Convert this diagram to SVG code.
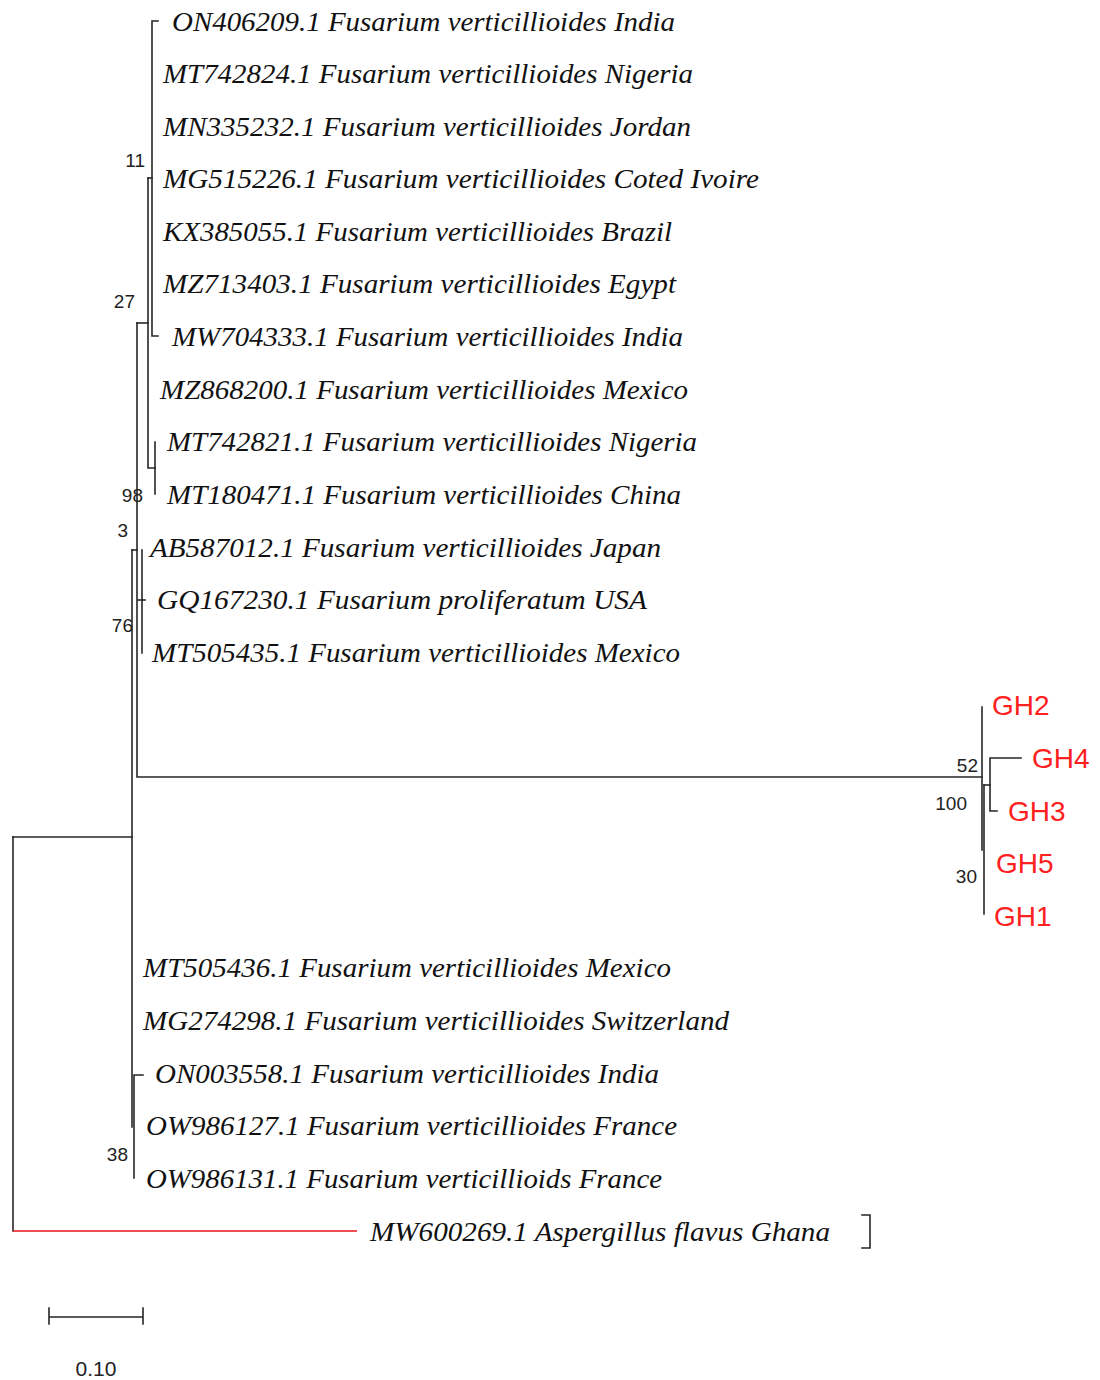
<svg xmlns="http://www.w3.org/2000/svg" width="1100" height="1380" viewBox="0 0 1100 1380">
<style>
.br{stroke:#262626;stroke-width:1.6;fill:none;stroke-linecap:square}
.out{stroke:#e8141c;stroke-width:1.6;fill:none}
.tx{font-family:"Liberation Serif","Times New Roman",serif;font-style:italic;font-size:28px;fill:#111}
.gh{font-family:"Liberation Sans",Arial,sans-serif;font-size:28px;fill:#ff2020}
.bs{font-family:"Liberation Sans",Arial,sans-serif;font-size:19px;fill:#222;text-anchor:end}
.sc{font-family:"Liberation Sans",Arial,sans-serif;font-size:21px;fill:#222;text-anchor:middle}
</style>
<rect width="1100" height="1380" fill="#fff"/>
<g id="connectors">
<path class="br" d="M158,21H152V336H158"/>
<path class="br" d="M148,178H152"/>
<path class="br" d="M148,178V468H155"/>
<path class="br" d="M155,442V494"/>
<path class="br" d="M137,323H148"/>
<path class="br" d="M137,323V777H982"/>
<path class="br" d="M132,550H137"/>
<path class="br" d="M142,550V653"/>
<path class="br" d="M138,600H145"/>
<path class="br" d="M132,550V1127"/>
<path class="br" d="M143,1075H134V1178"/>
<path class="br" d="M13,837H132"/>
<path class="br" d="M13,837V1231"/>
<path class="out" d="M13,1231H357"/>
<path class="br" d="M982,707V850"/>
<path class="br" d="M984,785V914"/>
<path class="br" d="M984,785H990"/>
<path class="br" d="M1021,758H990V811H997"/>
<path class="br" d="M862,1215H870V1248H862"/>
</g>
<g id="bootstrap">
<text class="bs" x="145" y="167">11</text>
<text class="bs" x="135" y="308">27</text>
<text class="bs" x="143" y="502">98</text>
<text class="bs" x="128" y="537">3</text>
<text class="bs" x="133" y="632">76</text>
<text class="bs" x="978" y="772">52</text>
<text class="bs" x="967" y="810">100</text>
<text class="bs" x="977" y="883">30</text>
<text class="bs" x="128" y="1161">38</text>
</g>
<g id="n-ON406209"><text class="tx" x="172" y="31" textLength="503" lengthAdjust="spacingAndGlyphs">ON406209.1 Fusarium verticillioides India</text></g>
<g id="n-MT742824"><text class="tx" x="163" y="83" textLength="530" lengthAdjust="spacingAndGlyphs">MT742824.1 Fusarium verticillioides Nigeria</text></g>
<g id="n-MN335232"><text class="tx" x="163" y="136" textLength="528" lengthAdjust="spacingAndGlyphs">MN335232.1 Fusarium verticillioides Jordan</text></g>
<g id="n-MG515226"><text class="tx" x="163" y="188" textLength="596" lengthAdjust="spacingAndGlyphs">MG515226.1 Fusarium verticillioides Coted Ivoire</text></g>
<g id="n-KX385055"><text class="tx" x="163" y="241" textLength="509" lengthAdjust="spacingAndGlyphs">KX385055.1 Fusarium verticillioides Brazil</text></g>
<g id="n-MZ713403"><text class="tx" x="163" y="293" textLength="513" lengthAdjust="spacingAndGlyphs">MZ713403.1 Fusarium verticillioides Egypt</text></g>
<g id="n-MW704333"><text class="tx" x="172" y="346" textLength="511" lengthAdjust="spacingAndGlyphs">MW704333.1 Fusarium verticillioides India</text></g>
<g id="n-MZ868200"><text class="tx" x="160" y="399" textLength="528" lengthAdjust="spacingAndGlyphs">MZ868200.1 Fusarium verticillioides Mexico</text></g>
<g id="n-MT742821"><text class="tx" x="167" y="451" textLength="530" lengthAdjust="spacingAndGlyphs">MT742821.1 Fusarium verticillioides Nigeria</text></g>
<g id="n-MT180471"><text class="tx" x="167" y="504" textLength="514" lengthAdjust="spacingAndGlyphs">MT180471.1 Fusarium verticillioides China</text></g>
<g id="n-AB587012"><text class="tx" x="150" y="557" textLength="511" lengthAdjust="spacingAndGlyphs">AB587012.1 Fusarium verticillioides Japan</text></g>
<g id="n-GQ167230"><text class="tx" x="157" y="609" textLength="490" lengthAdjust="spacingAndGlyphs">GQ167230.1 Fusarium proliferatum USA</text></g>
<g id="n-MT505435"><text class="tx" x="152" y="662" textLength="528" lengthAdjust="spacingAndGlyphs">MT505435.1 Fusarium verticillioides Mexico</text></g>
<g id="n-GH2"><text class="gh" x="992" y="715">GH2</text></g>
<g id="n-GH4"><text class="gh" x="1032" y="768">GH4</text></g>
<g id="n-GH3"><text class="gh" x="1008" y="821">GH3</text></g>
<g id="n-GH5"><text class="gh" x="996" y="873">GH5</text></g>
<g id="n-GH1"><text class="gh" x="994" y="926">GH1</text></g>
<g id="n-MT505436"><text class="tx" x="143" y="977" textLength="528" lengthAdjust="spacingAndGlyphs">MT505436.1 Fusarium verticillioides Mexico</text></g>
<g id="n-MG274298"><text class="tx" x="143" y="1030" textLength="586" lengthAdjust="spacingAndGlyphs">MG274298.1 Fusarium verticillioides Switzerland</text></g>
<g id="n-ON003558"><text class="tx" x="155" y="1083" textLength="504" lengthAdjust="spacingAndGlyphs">ON003558.1 Fusarium verticillioides India</text></g>
<g id="n-OW986127"><text class="tx" x="146" y="1135" textLength="531" lengthAdjust="spacingAndGlyphs">OW986127.1 Fusarium verticillioides France</text></g>
<g id="n-OW986131"><text class="tx" x="146" y="1188" textLength="516" lengthAdjust="spacingAndGlyphs">OW986131.1 Fusarium verticillioids France</text></g>
<g id="n-MW600269"><text class="tx" x="370" y="1241" textLength="460" lengthAdjust="spacingAndGlyphs">MW600269.1 Aspergillus flavus Ghana</text></g>
<g id="scale">
<path class="br" d="M49,1317H143M49,1308V1324M143,1308V1324"/>
<text class="sc" x="96" y="1376">0.10</text>
</g>
</svg>
